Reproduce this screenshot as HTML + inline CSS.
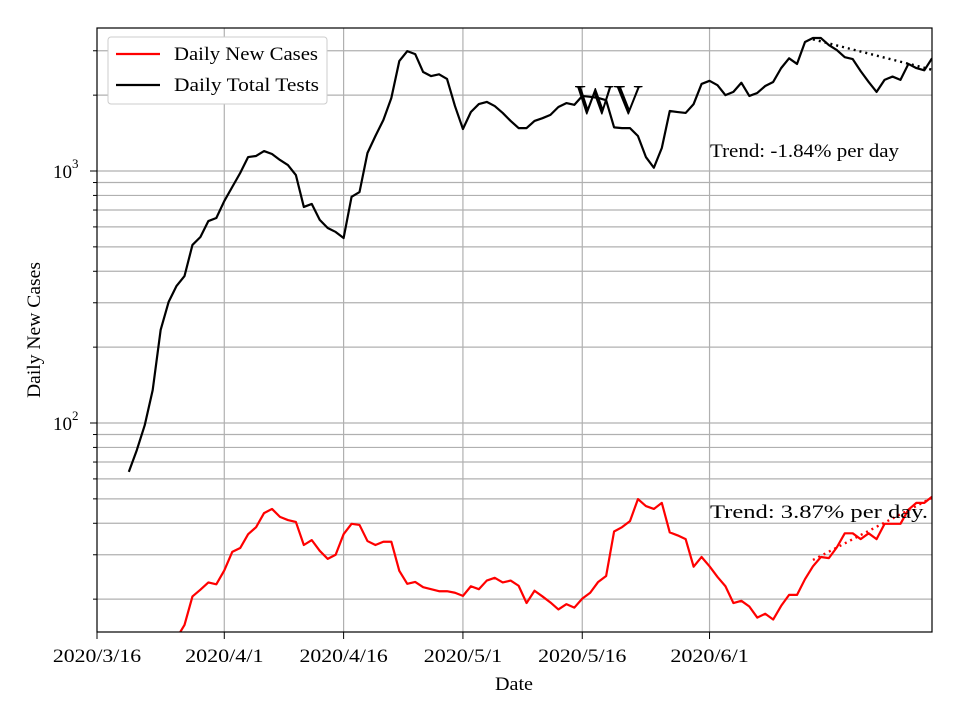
<!DOCTYPE html>
<html><head><meta charset="utf-8"><style>
html,body{margin:0;padding:0;background:#fff;}
svg text{font-family:"Liberation Serif",serif;}
</style></head><body>
<svg id="chart" width="960" height="720" xmlns="http://www.w3.org/2000/svg">
<defs><clipPath id="clip"><rect x="97" y="28" width="835" height="604"/></clipPath></defs>
<g id="grid"></g>
<g id="series" clip-path="url(#clip)"></g>
<rect x="97" y="28" width="835" height="604" fill="none" stroke="#000" stroke-width="1.2"/>
<g id="axes"></g>
<text x="575" y="114" font-size="42" textLength="68" lengthAdjust="spacingAndGlyphs">WV</text>
<text x="710" y="157" font-size="19" textLength="189" lengthAdjust="spacingAndGlyphs">Trend: -1.84% per day</text>
<text x="710" y="518" font-size="19" textLength="218" lengthAdjust="spacingAndGlyphs">Trend: 3.87% per day.</text>
<text x="514" y="690" font-size="19" text-anchor="middle" textLength="38" lengthAdjust="spacingAndGlyphs">Date</text>
<text x="40" y="330" font-size="19" text-anchor="middle" transform="rotate(-90 40 330)" textLength="136" lengthAdjust="spacingAndGlyphs">Daily New Cases</text>
<g>
<rect x="108" y="37" width="219" height="67" rx="3" fill="#fff" stroke="#ccc"/>
<line x1="116" y1="54" x2="160" y2="54" stroke="red" stroke-width="2.2"/>
<text x="174" y="60" font-size="19" textLength="144" lengthAdjust="spacingAndGlyphs">Daily New Cases</text>
<line x1="116" y1="85" x2="160" y2="85" stroke="#000" stroke-width="2.2"/>
<text x="174" y="91" font-size="19" textLength="145" lengthAdjust="spacingAndGlyphs">Daily Total Tests</text>
</g>
</svg>
<script>
const xTickDays=[0,16,31,46,61,77];
const xTickLabels=["2020/3/16","2020/4/1","2020/4/16","2020/5/1","2020/5/16","2020/6/1"];
const testsStart=4;
const tests=[64,78,98,135,234,302,350,383,509,547,633,651,760,864,982,1136,1147,1200,1168,1106,1056,964,720,740,640,594,573,542,790,825,1179,1377,1594,1948,2730,2990,2910,2470,2380,2420,2320,1810,1468,1714,1843,1880,1810,1700,1580,1480,1480,1580,1620,1670,1795,1860,1830,1985,1970,1950,1910,1490,1480,1480,1377,1136,1030,1234,1730,1714,1700,1843,2216,2280,2190,2000,2060,2240,1985,2040,2174,2256,2560,2800,2660,3250,3370,3370,3160,3020,2830,2780,2490,2256,2060,2300,2370,2300,2660,2560,2510,2800];
const casesStart=10;
const cases=[14,15.8,20.5,21.8,23.3,22.9,26,30.8,31.9,36.2,38.6,43.9,45.6,42.4,41.2,40.5,32.8,34.3,31.1,28.9,30,36.2,39.8,39.4,34,32.8,33.8,33.8,25.9,23,23.4,22.3,21.9,21.5,21.5,21.2,20.6,22.5,21.9,23.7,24.3,23.3,23.7,22.6,19.3,21.6,20.5,19.4,18.2,19.1,18.5,20.1,21.2,23.4,24.7,37.1,38.6,40.8,49.9,46.8,45.6,48.2,36.8,35.8,34.6,26.9,29.4,27,24.5,22.5,19.3,19.7,18.7,16.9,17.5,16.6,18.8,20.8,20.8,24,27,29.4,29.1,32.1,36.5,36.5,34.6,36.5,34.6,39.8,39.8,39.8,45.3,48.2,48.2,51];
const testsTrend=[90,3330,-0.0184];
const casesTrend=[90,28.6,0.0387];
const yMajor=[100,1000];
const yMajorLabels=["10","10"];
const yGrid=[20,30,40,50,60,70,80,90,100,200,300,400,500,600,700,800,900,1000,2000,3000];
const X0=97,X1=932,PXD=7.955,MAXDAY=(932-97)/7.955;
function xs(d){return X0+d*PXD;}
function ys(v){return 171-(Math.log10(v)-3)*252;}
const NS="http://www.w3.org/2000/svg";
function mk(tag,attrs,parent){const e=document.createElementNS(NS,tag);for(const k in attrs)e.setAttribute(k,attrs[k]);parent.appendChild(e);return e;}
const grid=document.getElementById('grid'),axes=document.getElementById('axes'),ser=document.getElementById('series');
yGrid.forEach(v=>{const y=ys(v);const l=mk('line',{x1:X0,x2:X1,y1:y,y2:y,stroke:'#b0b0b0','stroke-width':1.2},grid);


const t=mk('line',{x1:X0-(yMajor.includes(v)?7:4),x2:X0,y1:y,y2:y,stroke:'#000'},axes);

});
yMajor.forEach((v,i)=>{const y=ys(v);const t=mk('text',{x:X0-44,y:y+7,'font-size':19},axes);t.textContent=yMajorLabels[i];


const s=mk('text',{x:X0-25,y:y-3,'font-size':13},axes);s.textContent=String(Math.round(Math.log10(v)));

});
xTickDays.forEach((d,i)=>{const x=xs(d);if(i>0){const g=mk('line',{x1:x,x2:x,y1:28,y2:632,stroke:'#b0b0b0','stroke-width':1.2},grid);

}
const t=mk('line',{x1:x,x2:x,y1:632,y2:639,stroke:'#000'},axes);


const lb=mk('text',{x:x,y:662,'font-size':19,'text-anchor':'middle'},axes);lb.textContent=xTickLabels[i];
lb.setAttribute('textLength',xTickLabels[i].length*9.8);
lb.setAttribute('lengthAdjust','spacingAndGlyphs');

});
function line(arr,start,color,name){const pts=arr.map((v,i)=>{const d=Math.min(start+i,MAXDAY);return xs(d)+','+ys(v);}).join(' ');
const p=mk('polyline',{points:pts,fill:'none',stroke:color,'stroke-width':2.2,'stroke-linejoin':'round'},ser);

}
line(tests,testsStart,'#000','tests-line');
line(cases,casesStart,'red','cases-line');
function trend(tr,color,name){const d0=tr[0],v0=tr[1],r=tr[2];const v1=v0*Math.pow(1+r,MAXDAY-d0);
const p=mk('line',{x1:xs(d0),y1:ys(v0),x2:xs(MAXDAY),y2:ys(v1),stroke:color,'stroke-width':2.4,'stroke-dasharray':'2,4'},ser);

}
trend(testsTrend,'#000','tests-trend-line');
trend(casesTrend,'red','cases-trend-line');
</script>
</body></html>
